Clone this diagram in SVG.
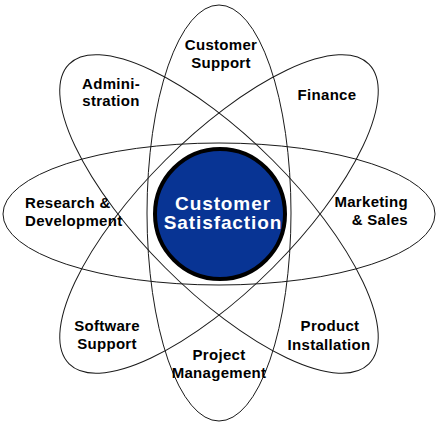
<svg xmlns="http://www.w3.org/2000/svg" width="439" height="425" viewBox="0 0 439 425">
<style>
.loop{fill:none;stroke:#1a1a1a;stroke-width:1}
.lbl{font-family:"Liberation Sans",Arial,sans-serif;font-weight:bold;font-size:15px;letter-spacing:0.3px;fill:#000}
.c{text-anchor:middle}
.core{font-family:"Liberation Sans",Arial,sans-serif;font-weight:bold;font-size:19px;letter-spacing:0.9px;fill:#fff;text-anchor:middle}
</style>
<rect width="439" height="425" fill="#fff"/>
<g id="connectors">
<ellipse class="loop" cx="219" cy="214" rx="216" ry="71"/>
<ellipse class="loop" cx="219" cy="213" rx="72" ry="208"/>
<ellipse class="loop" cx="219" cy="214" rx="212" ry="76" transform="rotate(45 219 214)"/>
<ellipse class="loop" cx="219" cy="214" rx="212" ry="76" transform="rotate(-45 219 214)"/>
</g>
<g id="customer-satisfaction">
<circle cx="220" cy="214" r="65" fill="#083494" stroke="#000" stroke-width="4"/>
<text class="core" x="223" y="210">Customer</text>
<text class="core" x="223" y="229">Satisfaction</text>
</g>
<g id="customer-support"><text class="lbl c" x="221" y="50">Customer</text><text class="lbl c" x="221" y="68">Support</text></g>
<g id="finance"><text class="lbl c" x="327" y="100">Finance</text></g>
<g id="administration"><text class="lbl c" x="111" y="89">Admini-</text><text class="lbl c" x="111" y="106">stration</text></g>
<g id="research-development"><text class="lbl" x="25" y="208">Research &amp;</text><text class="lbl" x="25" y="226">Development</text></g>
<g id="marketing-sales"><text class="lbl" text-anchor="end" x="408" y="207">Marketing</text><text class="lbl" text-anchor="end" x="408" y="225">&amp; Sales</text></g>
<g id="software-support"><text class="lbl c" x="107" y="331">Software</text><text class="lbl c" x="107" y="349">Support</text></g>
<g id="project-management"><text class="lbl c" x="219" y="360">Project</text><text class="lbl c" x="219" y="378">Management</text></g>
<g id="product-installation"><text class="lbl c" x="330" y="331">Product</text><text class="lbl c" x="329" y="350">Installation</text></g>
</svg>
